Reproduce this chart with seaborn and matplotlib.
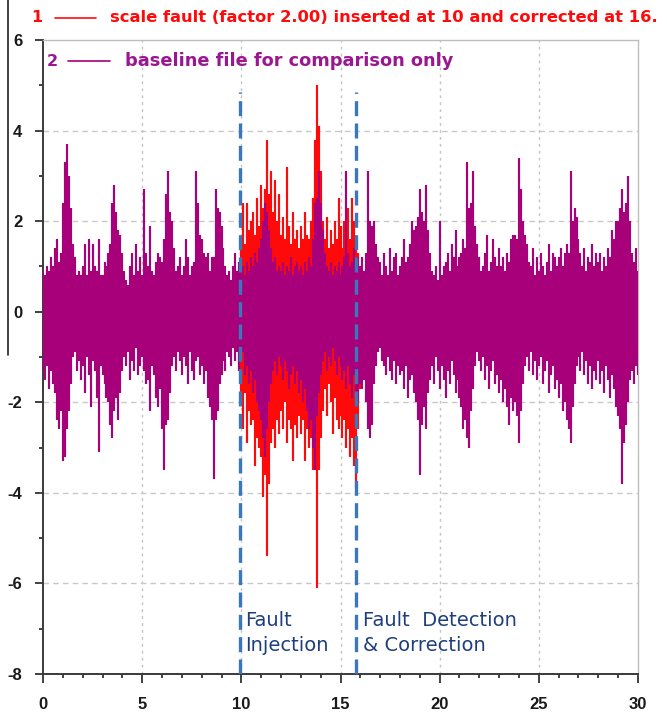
import numpy as np
import pandas as pd
import matplotlib
matplotlib.use("Agg")
import matplotlib.pyplot as plt
from matplotlib.lines import Line2D
from matplotlib.ticker import MultipleLocator
import seaborn as sns

# ---------------- data (min/max envelope of each 0.1 s sample) ----------------
t_step = 0.1
t_start = 0.0
base_hi = [
    0.9, 0.8, 1.0, 0.9, 1.2, 1.0, 1.4, 1.6, 1.1, 1.3,
    2.4, 3.3, 3.7, 3.0, 2.3, 1.5, 1.2, 0.8, 0.9, 0.8,
    1.0, 1.5, 0.8, 1.6, 0.9, 1.5, 1.0, 0.9, 1.6, 0.8,
    0.8, 1.1, 1.0, 1.3, 1.5, 2.4, 2.8, 2.2, 1.8, 1.7,
    1.3, 0.9, 0.7, 0.6, 1.0, 1.3, 0.8, 1.5, 0.9, 1.2,
    0.8, 2.7, 1.3, 1.0, 1.9, 0.9, 0.8, 1.1, 1.3, 1.2,
    1.1, 1.6, 2.6, 3.1, 2.2, 2.0, 1.4, 0.9, 1.0, 1.2,
    0.8, 1.0, 1.6, 1.2, 0.8, 1.0, 1.1, 3.1, 2.4, 1.7,
    1.6, 1.3, 1.2, 1.3, 0.9, 1.2, 1.2, 2.7, 2.3, 2.2,
    1.9, 1.4, 1.0, 0.8, 0.9, 0.7, 1.0, 1.3, 0.9, 1.1,
    0.9, 1.0, 0.8, 1.1, 0.9, 1.2, 1.0, 1.3, 1.1, 1.4,
    1.6, 2.0, 2.4, 2.2, 1.8, 1.4, 1.1, 1.2, 0.9, 1.0,
    0.9, 1.1, 0.8, 1.0, 0.9, 1.2, 0.8, 1.0, 1.1, 0.9,
    1.0, 0.8, 1.1, 0.9, 1.2, 1.0, 1.6, 2.4, 2.5, 3.1,
    2.4, 1.8, 1.3, 1.0, 0.9, 1.1, 0.8, 1.0, 0.9, 1.1,
    0.8, 1.0, 1.2, 3.1, 1.3, 1.0, 1.1, 1.4, 1.0, 1.2,
    1.0, 1.2, 0.9, 1.3, 3.1, 2.0, 1.9, 2.0, 1.5, 1.2,
    1.1, 0.8, 1.3, 1.0, 0.8, 1.4, 0.9, 1.2, 1.3, 0.8,
    1.0, 1.2, 1.6, 1.1, 1.2, 1.5, 2.0, 1.8, 1.9, 2.1,
    2.7, 2.2, 2.0, 2.8, 1.8, 1.3, 0.9, 0.8, 1.0, 0.7,
    2.0, 0.8, 1.0, 1.1, 1.3, 0.9, 1.5, 1.2, 1.8, 1.0,
    1.2, 1.3, 1.6, 1.4, 3.3, 2.3, 2.4, 3.1, 1.9, 1.5,
    1.2, 0.9, 1.0, 1.3, 1.7, 0.9, 1.1, 1.6, 1.2, 1.0,
    1.4, 1.0, 1.2, 0.9, 1.3, 1.1, 1.6, 1.7, 1.7, 1.6,
    3.4, 2.7, 2.0, 1.7, 1.5, 1.1, 1.0, 1.4, 0.8, 1.2,
    0.9, 1.3, 1.0, 0.8, 1.1, 1.5, 0.9, 1.3, 1.2, 1.0,
    1.2, 1.4, 1.0, 1.3, 1.5, 1.3, 3.1, 2.0, 2.3, 2.1,
    1.6, 1.3, 1.0, 1.4, 0.9, 1.2, 1.1, 1.5, 1.0, 1.3,
    1.1, 1.3, 0.9, 1.2, 1.0, 1.4, 1.2, 1.8, 1.6, 2.0,
    2.0, 2.3, 2.7, 2.2, 2.4, 3.0, 2.0, 1.3, 1.1, 1.4,
    0.9,
]
base_lo = [
    -1.3, -1.5, -1.2, -1.7, -1.3, -1.6, -1.8, -2.4, -2.6, -2.2,
    -3.3, -3.2, -2.6, -2.2, -1.6, -1.0, -0.9, -1.3, -1.1, -1.5,
    -1.2, -1.8, -1.0, -1.4, -2.1, -1.1, -1.3, -1.9, -3.1, -1.2,
    -1.4, -1.6, -1.9, -2.0, -2.5, -2.8, -2.2, -1.9, -2.4, -1.8,
    -1.3, -1.0, -1.2, -0.9, -1.5, -1.1, -1.3, -0.8, -1.4, -1.2,
    -1.0, -1.3, -1.6, -1.5, -2.2, -1.2, -1.4, -1.9, -2.1, -1.7,
    -2.6, -3.5, -2.5, -2.4, -1.8, -1.2, -1.0, -1.3, -0.9, -1.1,
    -1.4, -1.0, -1.2, -1.6, -0.9, -1.3, -1.5, -1.1, -1.0, -1.4,
    -1.2, -1.6, -1.3, -1.9, -2.1, -2.4, -3.7, -2.4, -2.2, -1.6,
    -1.4, -1.1, -1.3, -0.9, -1.0, -1.2, -0.8, -1.1, -0.9, -1.3,
    -1.1, -0.9, -1.4, -1.2, -1.6, -1.3, -1.8, -1.5, -2.0, -2.2,
    -2.4, -2.8, -3.2, -2.6, -2.0, -1.6, -1.3, -1.1, -1.4, -1.0,
    -1.2, -1.5, -1.1, -1.3, -1.7, -1.4, -1.2, -1.6, -1.3, -1.8,
    -1.5, -2.0, -1.7, -2.2, -2.6, -2.4, -3.0, -3.5, -2.3, -1.8,
    -1.4, -1.1, -0.9, -1.3, -1.0, -1.2, -0.8, -1.1, -1.4, -1.0,
    -1.2, -1.5, -1.3, -1.7, -1.2, -1.6, -1.9, -1.4, -1.8, -2.0,
    -1.6, -1.7, -1.5, -2.0, -2.6, -2.8, -2.5, -1.6, -1.2, -0.9,
    -0.8, -1.1, -1.2, -1.4, -1.0, -1.3, -1.5, -1.1, -1.6, -1.2,
    -1.4, -1.3, -1.7, -1.2, -1.9, -1.5, -1.4, -1.8, -2.0, -2.4,
    -3.6, -2.5, -2.1, -2.6, -1.8, -1.5, -1.2, -1.6, -1.0, -1.3,
    -1.7, -1.2, -1.5, -1.9, -1.3, -1.6, -1.1, -1.4, -1.8, -1.5,
    -1.9, -2.1, -2.6, -2.4, -2.8, -3.0, -2.2, -1.7, -1.2, -0.9,
    -1.1, -1.3, -1.0, -1.5, -1.2, -1.7, -1.3, -1.1, -1.6, -1.4,
    -1.8, -1.5, -2.0, -1.7, -2.1, -2.5, -1.9, -2.2, -2.0, -2.3,
    -2.9, -2.2, -1.6, -1.2, -1.0, -1.3, -0.9, -1.4, -1.1, -1.5,
    -1.2, -1.0, -1.6, -1.3, -1.1, -1.8, -1.4, -1.2, -1.7, -1.5,
    -1.9, -1.6, -2.2, -2.0, -2.4, -2.6, -2.9, -2.1, -1.6, -1.2,
    -1.0, -1.3, -0.9, -1.4, -1.1, -1.6, -1.2, -1.7, -1.3, -1.5,
    -1.1, -1.6, -1.3, -1.8, -1.2, -1.5, -1.9, -1.4, -1.7, -2.1,
    -2.3, -2.6, -3.8, -2.9, -2.5, -2.0, -1.5, -1.3, -1.6, -1.2,
    -1.4,
]
# scaled-fault file differs from the baseline only in the fault window
fault_t0 = 9.9
fault_hi = [
    1.0,
    1.6, 2.4, 1.5, 2.4, 1.8, 2.0, 2.2, 1.7, 2.5, 1.9,
    2.8, 2.3, 2.7, 3.8, 2.6, 3.1, 2.2, 2.9, 2.0, 2.6,
    1.7, 2.1, 1.6, 3.2, 1.9, 1.5, 2.2, 1.6, 1.8, 1.4,
    1.9, 1.6, 2.2, 1.7, 1.6, 2.0, 2.5, 3.8, 5.0, 4.1,
    3.1, 2.0, 1.6, 2.1, 1.4, 1.8, 1.5, 2.0, 1.6, 2.5,
    1.9, 1.4, 2.0, 1.7, 2.3, 1.6, 2.5, 2.0, 1.6, 1.3,
    1.0,
]
fault_lo = [
    -1.3,
    -2.0, -2.6, -1.8, -2.9, -2.2, -2.5, -2.4, -3.4, -2.8, -3.0,
    -3.2, -4.1, -3.6, -5.4, -3.8, -2.9, -2.6, -3.0, -2.4, -2.7,
    -2.2, -2.6, -2.0, -2.9, -2.4, -2.6, -3.3, -2.5, -2.8, -2.3,
    -2.7, -2.4, -3.3, -2.6, -3.0, -2.8, -3.5, -3.2, -6.1, -3.5,
    -2.8, -2.2, -1.7, -2.3, -1.6, -2.0, -2.7, -1.9, -2.4, -2.6,
    -2.3, -2.8, -2.4, -3.0, -2.6, -3.2, -2.8, -3.4, -3.9, -2.6,
    -1.7,
]
marker_times = [9.93, 15.78]
marker_labels = ["Fault\nInjection", "Fault  Detection\n& Correction"]
legend_texts = ["scale fault (factor 2.00) inserted at 10 and corrected at 16.",
                "baseline file for comparison only"]
x_ticks = [0, 5, 10, 15, 20, 25, 30]
y_ticks = [-8, -6, -4, -2, 0, 2, 4, 6]

RED = "#ff0a0a"
PURPLE = "#a8007a"
BLUE = "#3b77bb"
NAVY = "#1e3f7c"


def envelope_strokes(t0, hi, lo):
    """one vertical min->max stroke per sample (each sample is its own unit)."""
    rows = []
    for i, (h, l) in enumerate(zip(hi, lo)):
        tt = round(t0 + i * t_step, 3)
        rows.append((tt, h, i))
        rows.append((tt, l, i))
    return pd.DataFrame(rows, columns=["t", "v", "sample"])


sns.set_theme(style="white")
plt.rcParams["font.family"] = ["DejaVu Sans"]
plt.rcParams["axes.unicode_minus"] = False

fig = plt.figure(figsize=(6.67, 7.16), dpi=100)
ax = fig.add_axes([0.0645, 0.0587, 0.892, 0.8855])

df_fault = envelope_strokes(fault_t0, fault_hi, fault_lo)
df_base = envelope_strokes(t_start, base_hi, base_lo)
sns.lineplot(data=df_fault, x="t", y="v", units="sample", sort=False,
             estimator=None, color=RED, lw=1.55, ax=ax, zorder=3,
             solid_capstyle="butt")
sns.lineplot(data=df_base, x="t", y="v", units="sample", sort=False,
             estimator=None, color=PURPLE, lw=1.55, ax=ax, zorder=4,
             solid_capstyle="butt")

ax.set_xlim(0, 30)
ax.set_ylim(-8, 6)
ax.set_xlabel("")
ax.set_ylabel("")
ax.set_xticks(x_ticks)
ax.set_yticks(y_ticks)
ax.set_xticklabels([str(v) for v in x_ticks])
ax.set_yticklabels([str(v) for v in y_ticks])
ax.xaxis.set_minor_locator(MultipleLocator(1))
ax.yaxis.set_minor_locator(MultipleLocator(1))

for gx in x_ticks[1:-1]:
    ax.axvline(gx, color="#c4c4c4", lw=1.0, ls=(0, (2, 3)), zorder=1)
for gy in y_ticks[1:-1]:
    ax.axhline(gy, color="#c8c8c8", lw=1.0, ls=(0, (4, 3)), zorder=1)

for sp in ["left", "bottom"]:
    ax.spines[sp].set_color("#3a3a3a")
    ax.spines[sp].set_linewidth(1.4)
for sp in ["top", "right"]:
    ax.spines[sp].set_color("#bdbdbd")
    ax.spines[sp].set_linewidth(1.0)

ax.tick_params(axis="both", which="both", direction="out", color="#333333",
               width=1.3, labelcolor="#1a1a1a", labelsize=12)
ax.tick_params(axis="x", which="major", length=6.5, pad=10,
               bottom=True, top=False)
ax.tick_params(axis="x", which="minor", length=3, bottom=True, top=False)
ax.tick_params(axis="y", which="major", length=6, pad=9, left=True, right=False)
ax.tick_params(axis="y", which="minor", length=3, left=True, right=False)
for lab in ax.get_xticklabels() + ax.get_yticklabels():
    lab.set_fontweight("bold")
    lab.set_family(["Liberation Sans"])

# fault markers and annotations
for mt in marker_times:
    ax.plot([mt, mt], [-8, 4.85], color=BLUE, lw=2.4, ls=(0, (4.5, 2.2)),
            zorder=6, solid_capstyle="butt")
ax.text(marker_times[0] + 0.25, -7.1, marker_labels[0], color=NAVY,
        fontsize=14, va="center", ha="left", linespacing=1.4, zorder=7)
ax.text(marker_times[1] + 0.35, -7.1, marker_labels[1], color=NAVY,
        fontsize=14, va="center", ha="left", linespacing=1.4, zorder=7)

# legend block (as drawn by the original tool)
W, H = 667.0, 716.0
fig.text(37 / W, 1 - 18 / H, "1", color=RED, fontsize=11.5, fontweight="bold",
         ha="center", va="center")
fig.add_artist(Line2D([55 / W, 96 / W], [1 - 18 / H, 1 - 18 / H], color=RED, lw=1.2))
fig.text(110 / W, 1 - 18 / H, legend_texts[0], color=RED, fontsize=11.8,
         fontweight="bold", ha="left", va="center")
fig.text(52 / W, 1 - 61 / H, "2", color="#9a1790", fontsize=11.5, fontweight="bold",
         ha="center", va="center", zorder=8)
fig.add_artist(Line2D([68 / W, 110 / W], [1 - 61 / H, 1 - 61 / H], color=PURPLE, lw=1.2))
fig.text(125 / W, 1 - 61 / H, legend_texts[1], color="#9a1790", fontsize=12.8,
         fontweight="bold", ha="left", va="center")
# stray vertical rule at the left edge of the original
fig.add_artist(Line2D([8 / W, 8 / W], [1.0, 1 - 355 / H], color="#202020", lw=1.2))

fig.savefig("out.png", dpi=100, facecolor="white")
